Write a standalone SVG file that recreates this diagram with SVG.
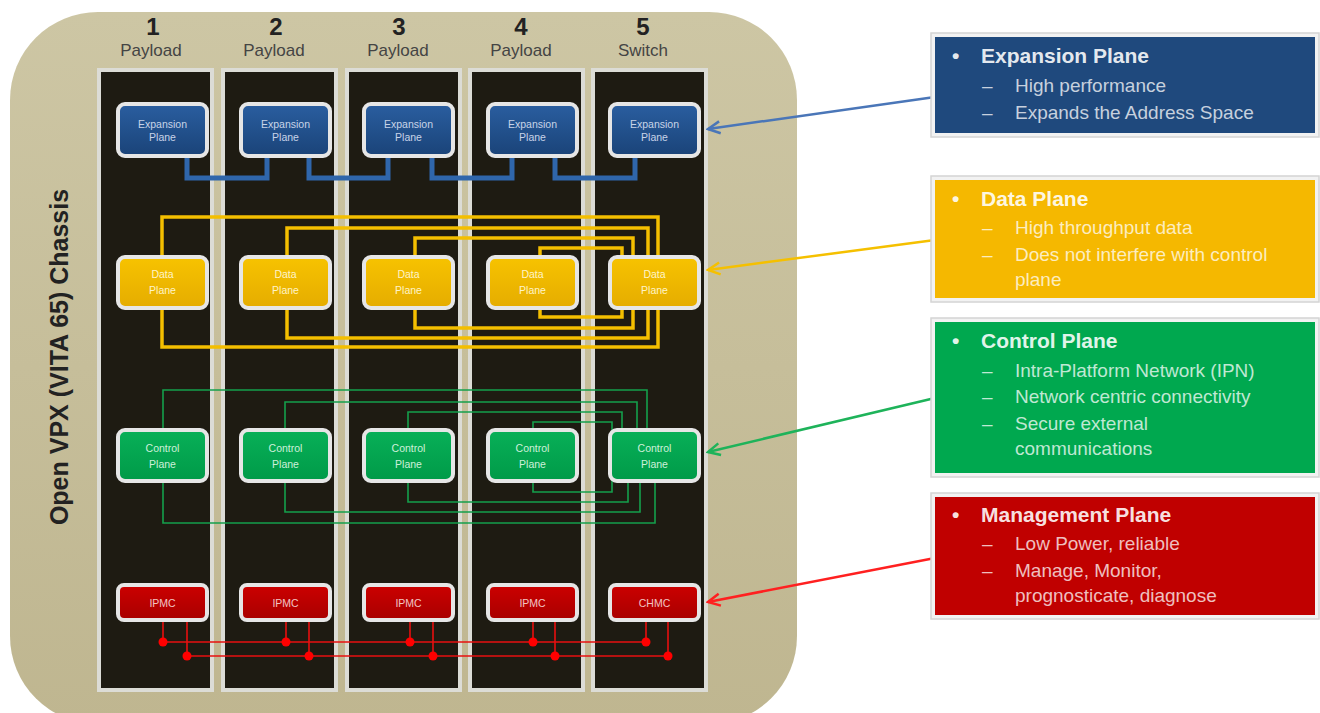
<svg xmlns="http://www.w3.org/2000/svg" width="1320" height="713" viewBox="0 0 1320 713">
<defs>
<linearGradient id="chg" x1="0" y1="0" x2="0" y2="1"><stop offset="0" stop-color="#cdc6a4"/><stop offset="1" stop-color="#bfb690"/></linearGradient>
<linearGradient id="gExp" x1="0" y1="0" x2="0" y2="1"><stop offset="0" stop-color="#2a5ea0"/><stop offset="1" stop-color="#1a4378"/></linearGradient>
<linearGradient id="gData" x1="0" y1="0" x2="0" y2="1"><stop offset="0" stop-color="#f7c300"/><stop offset="1" stop-color="#e5ac00"/></linearGradient>
<linearGradient id="gCtl" x1="0" y1="0" x2="0" y2="1"><stop offset="0" stop-color="#08b058"/><stop offset="1" stop-color="#009a48"/></linearGradient>
<linearGradient id="gMgt" x1="0" y1="0" x2="0" y2="1"><stop offset="0" stop-color="#cc0000"/><stop offset="1" stop-color="#a80000"/></linearGradient>
<marker id="mB" viewBox="0 0 16 16" refX="14" refY="8" markerWidth="16" markerHeight="16" markerUnits="userSpaceOnUse" orient="auto"><path d="M2,2 L14,8 L2,14" fill="none" stroke="#4a76b8" stroke-width="2.5"/></marker>
<marker id="mY" viewBox="0 0 16 16" refX="14" refY="8" markerWidth="16" markerHeight="16" markerUnits="userSpaceOnUse" orient="auto"><path d="M2,2 L14,8 L2,14" fill="none" stroke="#f5c000" stroke-width="2.5"/></marker>
<marker id="mG" viewBox="0 0 16 16" refX="14" refY="8" markerWidth="16" markerHeight="16" markerUnits="userSpaceOnUse" orient="auto"><path d="M2,2 L14,8 L2,14" fill="none" stroke="#1eb35a" stroke-width="2.5"/></marker>
<marker id="mR" viewBox="0 0 16 16" refX="14" refY="8" markerWidth="16" markerHeight="16" markerUnits="userSpaceOnUse" orient="auto"><path d="M2,2 L14,8 L2,14" fill="none" stroke="#ff2020" stroke-width="2.5"/></marker>
</defs>
<style>
text{font-family:"Liberation Sans",Arial,sans-serif}
.slot{fill:#1e1b12;stroke:#dcdcd6;stroke-width:4}
.num{font-size:24px;font-weight:bold;fill:#222;text-anchor:middle}
.lbl{font-size:17px;fill:#444;text-anchor:middle}
.box{stroke:#e6e6e6;stroke-width:4}
.exp{fill:url(#gExp)}
.dat{fill:url(#gData)}
.ctl{fill:url(#gCtl)}
.mgt{fill:url(#gMgt)}
.bt{font-size:10.5px;text-anchor:middle}
.bte{fill:#c8d4e8}
.btd{fill:#fff4c8}
.btc{fill:#cdf0da}
.btm{fill:#f2c4c4}
.yl{fill:none;stroke:#f4bf00;stroke-width:3.5}
.gl{fill:none;stroke:#14a04c;stroke-width:1.6}
.bl{fill:none;stroke:#2f66ab;stroke-width:5}
.rl{fill:none;stroke:#e81010;stroke-width:1.6}
.dot{fill:#ff0000}
.pshadow{fill:#f2f2f2;stroke:#d4d4d4;stroke-width:1.5}
.pt{font-size:21px;font-weight:bold;fill:#fff;fill-opacity:0.9}
.pb{font-size:19px;fill:#fff;fill-opacity:0.75}
.arr{fill:none;stroke-width:2.5}
</style>

<g id="chassis">
<rect x="10" y="12" width="787" height="712" rx="88" fill="url(#chg)"/>
<text transform="translate(68,357) rotate(-90)" text-anchor="middle" font-size="25" font-weight="bold" fill="#222">Open VPX (VITA 65) Chassis</text>
</g>

<g id="slots">
<rect class="slot" x="99" y="70" width="113" height="620"/>
<rect class="slot" x="223" y="70" width="113" height="620"/>
<rect class="slot" x="347" y="70" width="113" height="620"/>
<rect class="slot" x="470" y="70" width="113" height="620"/>
<rect class="slot" x="593" y="70" width="113" height="620"/>
<text class="num" x="153" y="35">1</text><text class="lbl" x="151" y="56">Payload</text>
<text class="num" x="276" y="35">2</text><text class="lbl" x="274" y="56">Payload</text>
<text class="num" x="399" y="35">3</text><text class="lbl" x="398" y="56">Payload</text>
<text class="num" x="521" y="35">4</text><text class="lbl" x="521" y="56">Payload</text>
<text class="num" x="643" y="35">5</text><text class="lbl" x="643" y="56">Switch</text>
</g>

<g id="connectors">
<path class="bl" d="M187,150 V178 H267 V150"/>
<path class="bl" d="M309,150 V178 H388 V150"/>
<path class="bl" d="M432,150 V178 H512 V150"/>
<path class="bl" d="M555,150 V178 H635 V150"/>

<path class="yl" d="M162,217 H658 V347 H162 Z"/>
<path class="yl" d="M287,228 H648 V338 H287 Z"/>
<path class="yl" d="M415,238 H633 V328 H415 Z"/>
<path class="yl" d="M540,248 H622 V317 H540 Z"/>

<path class="gl" d="M163,390 H647 V455 H655 V523 H163 Z"/>
<path class="gl" d="M285,402 H637 V455 H640 V512 H285 Z"/>
<path class="gl" d="M408,412 H622 V455 H628 V502 H408 Z"/>
<path class="gl" d="M533,422 H612 V492 H533 Z"/>

<path class="rl" d="M163,615 V642 M187,615 V656 M286,615 V642 M309,615 V656 M410,615 V642 M433,615 V656 M533,615 V642 M555,615 V656 M646,615 V642 M668,615 V656 M163,642 H646 M187,656 H668"/>
<circle class="dot" cx="163" cy="642" r="4.5"/><circle class="dot" cx="187" cy="656" r="4.5"/>
<circle class="dot" cx="286" cy="642" r="4.5"/><circle class="dot" cx="309" cy="656" r="4.5"/>
<circle class="dot" cx="410" cy="642" r="4.5"/><circle class="dot" cx="433" cy="656" r="4.5"/>
<circle class="dot" cx="533" cy="642" r="4.5"/><circle class="dot" cx="555" cy="656" r="4.5"/>
<circle class="dot" cx="646" cy="642" r="4.5"/><circle class="dot" cx="668" cy="656" r="4.5"/>

<line class="arr" x1="935" y1="97" x2="708" y2="129" stroke="#4a76b8" marker-end="url(#mB)"/>
<line class="arr" x1="935" y1="240" x2="708" y2="270" stroke="#f5c000" marker-end="url(#mY)"/>
<line class="arr" x1="935" y1="398" x2="708" y2="452" stroke="#1eb35a" marker-end="url(#mG)"/>
<line class="arr" x1="935" y1="558" x2="708" y2="602" stroke="#ff2020" marker-end="url(#mR)"/>
</g>

<g id="exp1"><rect class="box exp" x="118" y="104" width="89" height="52" rx="7"/><text class="bt bte" x="162.5" y="127.5">Expansion</text><text class="bt bte" x="162.5" y="140.5">Plane</text></g>
<g id="exp2"><rect class="box exp" x="241" y="104" width="89" height="52" rx="7"/><text class="bt bte" x="285.5" y="127.5">Expansion</text><text class="bt bte" x="285.5" y="140.5">Plane</text></g>
<g id="exp3"><rect class="box exp" x="364" y="104" width="89" height="52" rx="7"/><text class="bt bte" x="408.5" y="127.5">Expansion</text><text class="bt bte" x="408.5" y="140.5">Plane</text></g>
<g id="exp4"><rect class="box exp" x="488" y="104" width="89" height="52" rx="7"/><text class="bt bte" x="532.5" y="127.5">Expansion</text><text class="bt bte" x="532.5" y="140.5">Plane</text></g>
<g id="exp5"><rect class="box exp" x="610" y="104" width="89" height="52" rx="7"/><text class="bt bte" x="654.5" y="127.5">Expansion</text><text class="bt bte" x="654.5" y="140.5">Plane</text></g>

<g id="data1"><rect class="box dat" x="118" y="257" width="89" height="51" rx="7"/><text class="bt btd" x="162.5" y="278">Data</text><text class="bt btd" x="162.5" y="294">Plane</text></g>
<g id="data2"><rect class="box dat" x="241" y="257" width="89" height="51" rx="7"/><text class="bt btd" x="285.5" y="278">Data</text><text class="bt btd" x="285.5" y="294">Plane</text></g>
<g id="data3"><rect class="box dat" x="364" y="257" width="89" height="51" rx="7"/><text class="bt btd" x="408.5" y="278">Data</text><text class="bt btd" x="408.5" y="294">Plane</text></g>
<g id="data4"><rect class="box dat" x="488" y="257" width="89" height="51" rx="7"/><text class="bt btd" x="532.5" y="278">Data</text><text class="bt btd" x="532.5" y="294">Plane</text></g>
<g id="data5"><rect class="box dat" x="610" y="257" width="89" height="51" rx="7"/><text class="bt btd" x="654.5" y="278">Data</text><text class="bt btd" x="654.5" y="294">Plane</text></g>

<g id="ctl1"><rect class="box ctl" x="118" y="430" width="89" height="51" rx="7"/><text class="bt btc" x="162.5" y="452">Control</text><text class="bt btc" x="162.5" y="468">Plane</text></g>
<g id="ctl2"><rect class="box ctl" x="241" y="430" width="89" height="51" rx="7"/><text class="bt btc" x="285.5" y="452">Control</text><text class="bt btc" x="285.5" y="468">Plane</text></g>
<g id="ctl3"><rect class="box ctl" x="364" y="430" width="89" height="51" rx="7"/><text class="bt btc" x="408.5" y="452">Control</text><text class="bt btc" x="408.5" y="468">Plane</text></g>
<g id="ctl4"><rect class="box ctl" x="488" y="430" width="89" height="51" rx="7"/><text class="bt btc" x="532.5" y="452">Control</text><text class="bt btc" x="532.5" y="468">Plane</text></g>
<g id="ctl5"><rect class="box ctl" x="610" y="430" width="89" height="51" rx="7"/><text class="bt btc" x="654.5" y="452">Control</text><text class="bt btc" x="654.5" y="468">Plane</text></g>

<g id="mgt1"><rect class="box mgt" x="118" y="585" width="89" height="35" rx="6"/><text class="bt btm" x="162.5" y="607">IPMC</text></g>
<g id="mgt2"><rect class="box mgt" x="241" y="585" width="89" height="35" rx="6"/><text class="bt btm" x="285.5" y="607">IPMC</text></g>
<g id="mgt3"><rect class="box mgt" x="364" y="585" width="89" height="35" rx="6"/><text class="bt btm" x="408.5" y="607">IPMC</text></g>
<g id="mgt4"><rect class="box mgt" x="488" y="585" width="89" height="35" rx="6"/><text class="bt btm" x="532.5" y="607">IPMC</text></g>
<g id="mgt5"><rect class="box mgt" x="610" y="585" width="89" height="35" rx="6"/><text class="bt btm" x="654.5" y="607">CHMC</text></g>

<g id="panel-expansion">
<rect class="pshadow" x="931" y="33" width="388" height="104"/>
<rect x="935" y="37" width="380" height="96" fill="#1f497d"/>
<text class="pt" x="952" y="63">•</text><text class="pt" x="981" y="63">Expansion Plane</text>
<text class="pb" x="982" y="92">–</text><text class="pb" x="1015" y="92">High performance</text>
<text class="pb" x="982" y="119">–</text><text class="pb" x="1015" y="119">Expands the Address Space</text>
</g>

<g id="panel-data">
<rect class="pshadow" x="931" y="176" width="388" height="126"/>
<rect x="935" y="180" width="380" height="118" fill="#f5b800"/>
<text class="pt" x="952" y="206">•</text><text class="pt" x="981" y="206">Data Plane</text>
<text class="pb" x="982" y="234">–</text><text class="pb" x="1015" y="234">High throughput data</text>
<text class="pb" x="982" y="261">–</text><text class="pb" x="1015" y="261">Does not interfere with control</text>
<text class="pb" x="1015" y="286">plane</text>
</g>

<g id="panel-control">
<rect class="pshadow" x="931" y="318" width="388" height="159"/>
<rect x="935" y="322" width="380" height="151" fill="#00a84f"/>
<text class="pt" x="952" y="348">•</text><text class="pt" x="981" y="348">Control Plane</text>
<text class="pb" x="982" y="377">–</text><text class="pb" x="1015" y="377">Intra-Platform Network (IPN)</text>
<text class="pb" x="982" y="403">–</text><text class="pb" x="1015" y="403">Network centric connectivity</text>
<text class="pb" x="982" y="430">–</text><text class="pb" x="1015" y="430">Secure external</text>
<text class="pb" x="1015" y="455">communications</text>
</g>

<g id="panel-management">
<rect class="pshadow" x="931" y="493" width="388" height="126"/>
<rect x="935" y="497" width="380" height="118" fill="#c00000"/>
<text class="pt" x="952" y="522">•</text><text class="pt" x="981" y="522">Management Plane</text>
<text class="pb" x="982" y="550">–</text><text class="pb" x="1015" y="550">Low Power, reliable</text>
<text class="pb" x="982" y="577">–</text><text class="pb" x="1015" y="577">Manage, Monitor,</text>
<text class="pb" x="1015" y="602">prognosticate, diagnose</text>
</g>
</svg>
